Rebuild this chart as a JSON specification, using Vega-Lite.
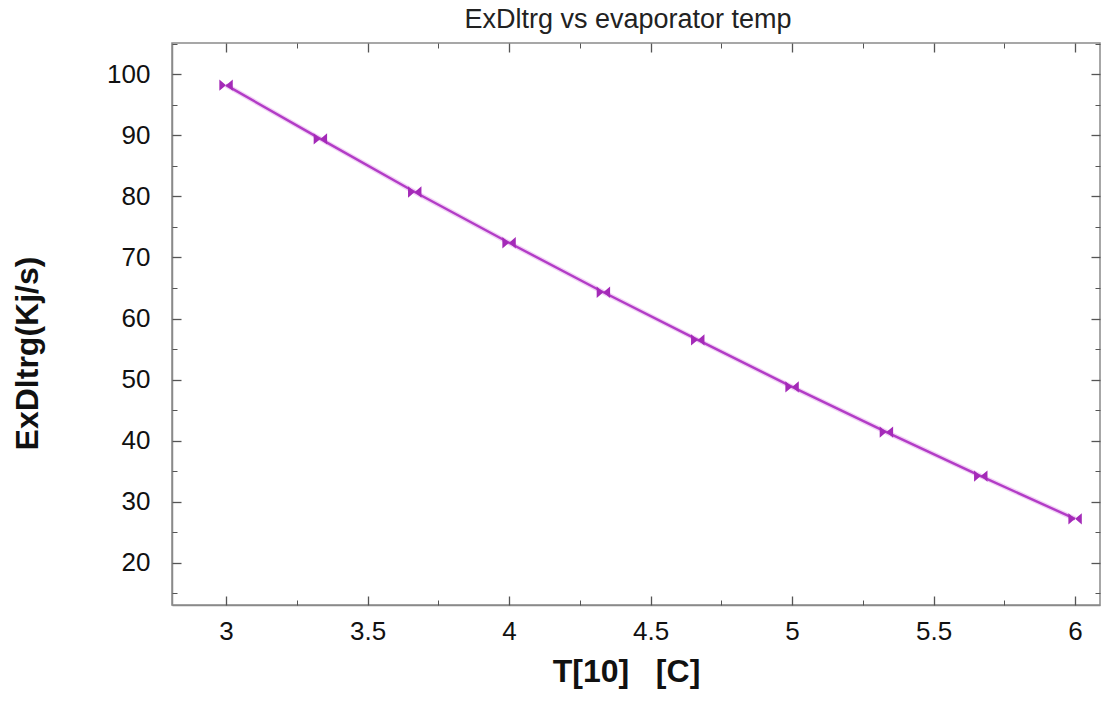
{
  "$schema": "https://vega.github.io/schema/vega-lite/v6.json",
  "width": 928,
  "height": 562,
  "autosize": "none",
  "padding": {"left": 172, "top": 43, "right": 2, "bottom": 102},
  "background": "white",
  "title": {"text": "ExDltrg vs evaporator temp", "font": "Liberation Sans", "fontSize": 27, "fontWeight": "normal", "color": "#222222", "offset": 8, "anchor": "middle", "dx": -8},
  "config": {
    "view": {"stroke": "#8a8a8a", "strokeWidth": 1.5},
    "axis": {"grid": false, "domainColor": "#8a8a8a", "tickColor": "#555555", "labelFont": "Liberation Sans", "titleFont": "Liberation Sans", "labelColor": "#111111", "titleColor": "#111111"}
  },
  "data": {"values": [
    {"t": 3.0, "ex": 98.2},
    {"t": 3.3333, "ex": 89.4},
    {"t": 3.6667, "ex": 80.7},
    {"t": 4.0, "ex": 72.4},
    {"t": 4.3333, "ex": 64.3},
    {"t": 4.6667, "ex": 56.5},
    {"t": 5.0, "ex": 48.8},
    {"t": 5.3333, "ex": 41.4},
    {"t": 5.6667, "ex": 34.2},
    {"t": 6.0, "ex": 27.2}
  ]},
  "layer": [
    {
      "mark": {"type": "line", "color": "#e9b5f0", "strokeWidth": 5, "opacity": 0.6},
      "encoding": {
        "x": {"field": "t", "type": "quantitative", "scale": {"domain": [2.809, 6.088], "nice": false, "zero": false},
          "axis": {"orient": "bottom", "values": [3, 3.5, 4, 4.5, 5, 5.5, 6], "format": "~g", "ticks": false, "labelFontSize": 26, "labelPadding": 13, "title": "T[10]\u00a0\u00a0\u00a0[C]", "titleFontSize": 32, "titleFontWeight": "bold", "titlePadding": 12, "titleX": 454, "domainWidth": 1.5}},
        "y": {"field": "ex", "type": "quantitative", "scale": {"domain": [13.1, 105.1], "nice": false, "zero": false},
          "axis": {"orient": "left", "values": [20, 30, 40, 50, 60, 70, 80, 90, 100], "ticks": false, "labelFontSize": 26, "labelPadding": 22, "title": "ExDltrg(Kj/s)", "titleFontSize": 32, "titleFontWeight": "bold", "titlePadding": 62, "titleY": 310, "domainWidth": 1.5}}
      }
    },
    {
      "mark": {"type": "line", "color": "#b23cc6", "strokeWidth": 2.4},
      "encoding": {
        "x": {"field": "t", "type": "quantitative", "axis": {"orient": "bottom", "values": [3, 3.5, 4, 4.5, 5, 5.5, 6], "labels": false, "domain": false, "offset": -9, "tickSize": 9, "tickWidth": 1.3, "title": null}},
        "y": {"field": "ex", "type": "quantitative", "axis": {"orient": "left", "values": [20, 30, 40, 50, 60, 70, 80, 90, 100], "labels": false, "domain": false, "offset": -9, "tickSize": 9, "tickWidth": 1.3, "title": null}}
      }
    },
    {
      "mark": {"type": "point", "shape": "M-1,-0.85L0,0L-1,0.85Z M1,-0.85L0,0L1,0.85Z", "size": 180, "filled": true, "color": "#a42ab8", "opacity": 1},
      "encoding": {
        "x": {"field": "t", "type": "quantitative", "axis": {"orient": "bottom", "values": [3.25, 3.75, 4.25, 4.75, 5.25, 5.75], "labels": false, "domain": false, "offset": -5, "tickSize": 5, "tickWidth": 1, "title": null}},
        "y": {"field": "ex", "type": "quantitative", "axis": {"orient": "left", "values": [15, 25, 35, 45, 55, 65, 75, 85, 95, 105], "labels": false, "domain": false, "offset": -5, "tickSize": 5, "tickWidth": 1, "title": null}}
      }
    },
    {
      "mark": {"type": "line", "opacity": 0},
      "encoding": {
        "x": {"field": "t", "type": "quantitative", "axis": {"orient": "top", "values": [3, 3.5, 4, 4.5, 5, 5.5, 6], "labels": false, "domain": false, "offset": -9, "tickSize": 9, "tickWidth": 1.3, "title": null}},
        "y": {"field": "ex", "type": "quantitative", "axis": {"orient": "right", "values": [20, 30, 40, 50, 60, 70, 80, 90, 100], "labels": false, "domain": false, "offset": -9, "tickSize": 9, "tickWidth": 1.3, "title": null}}
      }
    },
    {
      "mark": {"type": "line", "opacity": 0},
      "encoding": {
        "x": {"field": "t", "type": "quantitative", "axis": {"orient": "top", "values": [3.25, 3.75, 4.25, 4.75, 5.25, 5.75], "labels": false, "domain": false, "offset": -5, "tickSize": 5, "tickWidth": 1, "title": null}},
        "y": {"field": "ex", "type": "quantitative", "axis": {"orient": "right", "values": [15, 25, 35, 45, 55, 65, 75, 85, 95, 105], "labels": false, "domain": false, "offset": -5, "tickSize": 5, "tickWidth": 1, "title": null}}
      }
    }
  ],
  "resolve": {"axis": {"x": "independent", "y": "independent"}}
}
